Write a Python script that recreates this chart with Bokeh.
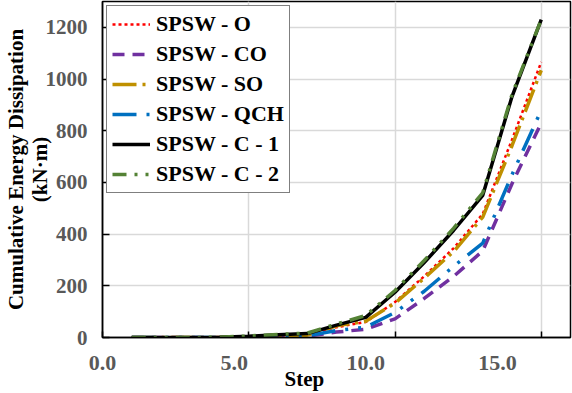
from bokeh.plotting import figure
from bokeh.models import (Range1d, LinearAxis, FixedTicker, NumeralTickFormatter,
                          Legend, LegendItem, Title)
from bokeh.embed import file_html
from bokeh.resources import INLINE

# ---- data ----
steps = list(range(1, 16))
spsw_o   = [0, 0, 0, 0, 3, 7, 10, 40, 60, 137, 237, 345, 478, 765, 1066]
spsw_co  = [0, 0, 0, 0, 1, 3, 5, 21, 32, 72, 151, 236, 335, 595, 830]
spsw_so  = [0, 0, 0, 0, 2, 6, 9, 45, 63, 133, 230, 332, 466, 742, 1034]
spsw_qch = [0, 0, 0, 0, 1, 4, 7, 27, 40, 97, 179, 275, 365, 630, 879]
spsw_c1  = [0, 0, 0, 1, 5, 11, 15, 48, 78, 175, 290, 414, 550, 932, 1230]
spsw_c2  = [0, 0, 0, 1, 6, 12, 17, 52, 85, 182, 298, 422, 560, 940, 1230]

series_names = ["SPSW - O", "SPSW - CO", "SPSW - SO", "SPSW - QCH", "SPSW - C - 1", "SPSW - C - 2"]
x_ticks = [0, 5, 10, 15]
y_ticks = [0, 200, 400, 600, 800, 1000, 1200]
x_title = "Step"
y_title = "Cumulative Energy Dissipation\n(kN·m)"

FONT = "Liberation Serif"

p = figure(width=572, height=393, output_backend="svg", toolbar_location=None,
           x_range=Range1d(0, 16), y_range=Range1d(0, 1300),
           min_border_left=101, min_border_right=2, min_border_top=1, min_border_bottom=56)
p.background_fill_color = "white"
p.border_fill_color = "white"
p.outline_line_color = "black"
p.outline_line_width = 1.5

# grids
p.xgrid.ticker = FixedTicker(ticks=x_ticks)
p.ygrid.ticker = FixedTicker(ticks=y_ticks)
for g in (p.xgrid, p.ygrid):
    g.grid_line_color = "#D9D9D9"
    g.grid_line_width = 1.5

# main x axis: inward ticks only
xa = p.xaxis[0]
xa.ticker = FixedTicker(ticks=x_ticks)
xa.major_tick_in = 6
xa.major_tick_out = 0
xa.minor_tick_line_color = None
xa.major_label_text_alpha = 0
xa.major_label_text_font_size = "1px"
xa.major_label_standoff = 0
xa.axis_line_color = "black"
xa.axis_line_width = 1.5
xa.major_tick_line_width = 1.5

# label axis for the x tick labels
p.extra_x_ranges = {"lab": Range1d(0, 17.77)}
lab = LinearAxis(x_range_name="lab", ticker=FixedTicker(ticks=x_ticks),
                 formatter=NumeralTickFormatter(format="0.0"))
lab.axis_line_color = None
lab.major_tick_line_color = None
lab.minor_tick_line_color = None
lab.major_tick_in = 0
lab.major_tick_out = 0
lab.major_label_standoff = 18
lab.major_label_text_font = FONT
lab.major_label_text_font_size = "22px"
lab.major_label_text_font_style = "bold"
lab.major_label_text_color = "#595959"
p.add_layout(lab, "below")

xt = Title(text=x_title, align="left", offset=182, text_font=FONT,
           text_font_size="21px", text_font_style="bold", text_color="black", standoff=-15)
p.add_layout(xt, "below")

# y axis
ya = p.yaxis[0]
ya.ticker = FixedTicker(ticks=y_ticks)
ya.major_tick_in = 7
ya.major_tick_out = 0
ya.minor_tick_line_color = None
ya.major_tick_line_width = 1.5
ya.axis_line_color = "black"
ya.axis_line_width = 1.5
ya.major_label_standoff = 15
ya.major_label_text_font = FONT
ya.major_label_text_font_size = "21px"
ya.major_label_text_font_style = "bold"
ya.major_label_text_color = "#595959"
ya.axis_label = y_title
ya.axis_label_text_font = FONT
ya.axis_label_text_font_size = "21px"
ya.axis_label_text_font_style = "bold"
ya.axis_label_text_color = "black"
ya.axis_label_standoff = -9
ya.axis_label_text_line_height = 1.0

# lines
styles = [
    dict(color="#FF0000", line_width=2.5, line_dash="3 3"),
    dict(color="#7030A0", line_width=3.5, line_dash="12 8"),
    dict(color="#BF9000", line_width=3.5, line_dash="24 6 3 6"),
    dict(color="#0070C0", line_width=3.5, line_dash="24 10 3 10 3 10"),
    dict(color="black", line_width=3.5),
    dict(color="#548235", line_width=3.5, line_dash="14 8 3 8 3 8"),
]
data = [spsw_o, spsw_co, spsw_so, spsw_qch, spsw_c1, spsw_c2]
items = []
for name, ys, st in zip(series_names, data, styles):
    r = p.line(steps, ys, **st)
    items.append(LegendItem(label=name, renderers=[r]))

legend = Legend(items=items, location="top_left")
legend.margin = 4
legend.padding = 5
legend.spacing = 4
legend.label_height = 24
legend.glyph_height = 24
legend.glyph_width = 38
legend.label_standoff = 6
legend.label_text_font = FONT
legend.label_text_font_size = "22px"
legend.label_text_font_style = "bold"
legend.label_text_color = "black"
legend.border_line_color = "black"
legend.border_line_width = 1.5
legend.background_fill_color = "white"
legend.background_fill_alpha = 1.0
p.add_layout(legend)

open("out.html", "w").write(file_html(p, INLINE))
